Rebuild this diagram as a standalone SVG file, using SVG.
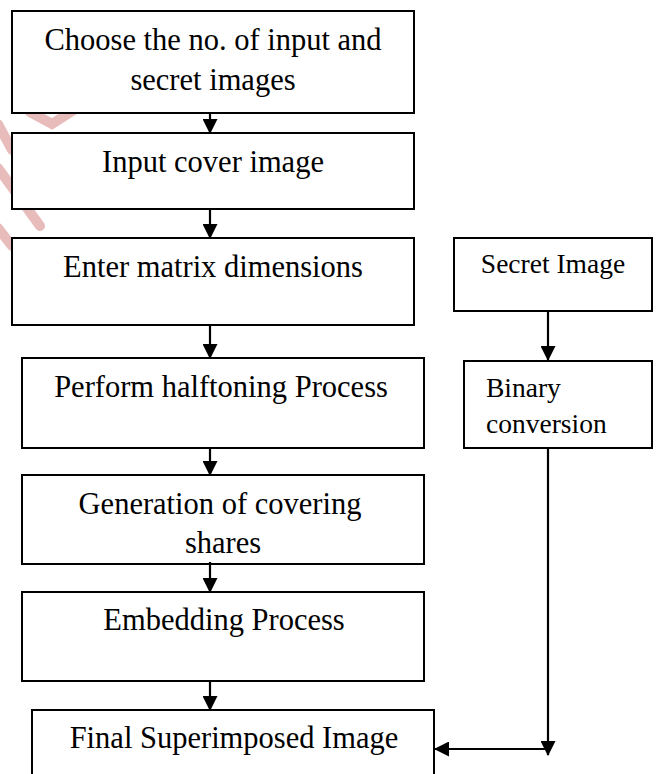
<svg xmlns="http://www.w3.org/2000/svg" width="660" height="774" viewBox="0 0 660 774">
<style>
.box{fill:#fff;stroke:#000;stroke-width:2}
.t{font-family:"Liberation Serif","Times New Roman",serif;font-size:30.5px;fill:#000;text-anchor:middle}
.s{font-family:"Liberation Serif","Times New Roman",serif;font-size:27.5px;fill:#000}
.c{fill:none;stroke:#000;stroke-width:2.2}
.wm{fill:none;stroke:#e9bcbc;stroke-width:10;stroke-linecap:round}
</style>
<defs>
<marker id="ah" markerUnits="userSpaceOnUse" markerWidth="15" markerHeight="15" refX="14" refY="7.5" orient="auto" viewBox="0 0 15 15">
<path d="M0,0 L15,7.5 L0,15 z" fill="#000"/>
</marker>
</defs>
<rect width="660" height="774" fill="#fff"/>
<g id="watermark">
<path class="wm" d="M30 112 L52 124 L80 106"/>
<path class="wm" d="M-2 124 L12 150"/>
<path class="wm" d="M-2 168 L40 226"/>
<path class="wm" d="M-2 228 L12 246"/>
</g>
<g id="n1"><rect class="box" x="12" y="11" width="402" height="102"/>
<text class="t" x="213" y="50">Choose the no. of input and</text>
<text class="t" x="213" y="90">secret images</text></g>
<g id="n2"><rect class="box" x="12" y="133" width="402" height="76"/>
<text class="t" x="213" y="172">Input cover image</text></g>
<g id="n3"><rect class="box" x="12" y="238" width="402" height="87"/>
<text class="t" x="213" y="277">Enter matrix dimensions</text></g>
<g id="n4"><rect class="box" x="22" y="358" width="402" height="90"/>
<text class="t" x="221" y="397">Perform halftoning Process</text></g>
<g id="n5"><rect class="box" x="22" y="475" width="402" height="89"/>
<text class="t" x="220" y="514">Generation of covering</text>
<text class="t" x="223" y="553">shares</text></g>
<g id="n6"><rect class="box" x="22" y="592" width="402" height="89"/>
<text class="t" x="224" y="630">Embedding Process</text></g>
<g id="n7"><rect class="box" x="32" y="710" width="402" height="66"/>
<text class="t" x="234" y="748">Final Superimposed Image</text></g>
<g id="n8"><rect class="box" x="454" y="238" width="198" height="73"/>
<text class="s" x="553" y="273" text-anchor="middle">Secret Image</text></g>
<g id="n9"><rect class="box" x="464" y="361" width="188" height="87"/>
<text class="s" x="486" y="397">Binary</text>
<text class="s" x="486" y="433">conversion</text></g>
<g id="connectors">
<line class="c" x1="210" y1="113" x2="210" y2="133" marker-end="url(#ah)"/>
<line class="c" x1="210" y1="209" x2="210" y2="238" marker-end="url(#ah)"/>
<line class="c" x1="210" y1="325" x2="210" y2="358" marker-end="url(#ah)"/>
<line class="c" x1="210" y1="448" x2="210" y2="475" marker-end="url(#ah)"/>
<line class="c" x1="210" y1="562" x2="210" y2="592" marker-end="url(#ah)"/>
<line class="c" x1="210" y1="681" x2="210" y2="710" marker-end="url(#ah)"/>
<line class="c" x1="548" y1="311" x2="548" y2="360" marker-end="url(#ah)"/>
<line class="c" x1="548" y1="448" x2="548" y2="755" marker-end="url(#ah)"/>
<line class="c" x1="548" y1="749" x2="435" y2="749" marker-end="url(#ah)"/>
</g>
</svg>
